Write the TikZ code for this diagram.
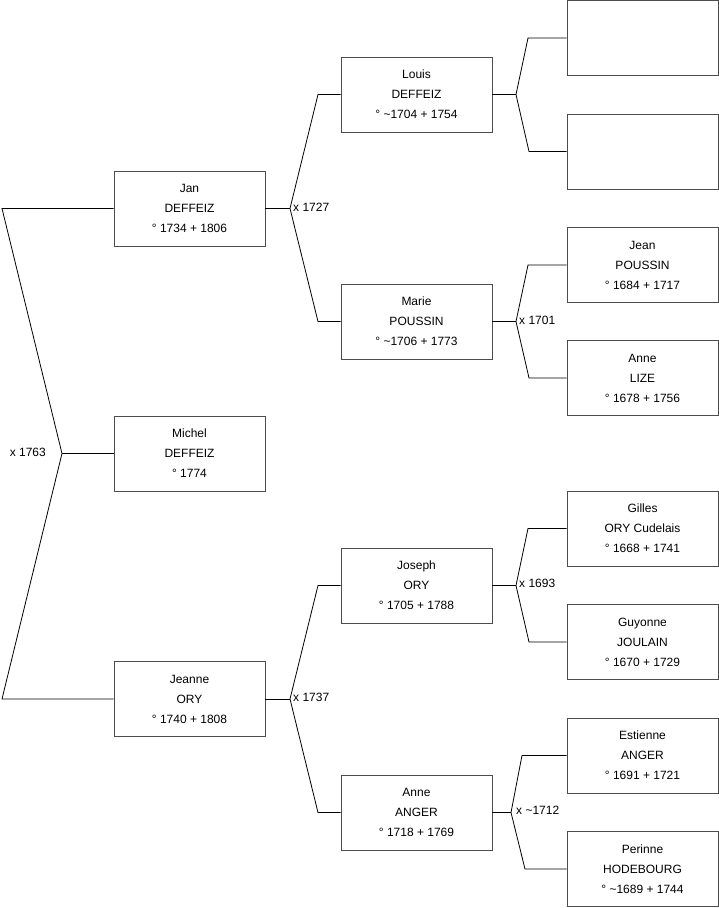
\documentclass[tikz,border=0pt]{standalone}
\usepackage{fontspec}
\setmainfont{Liberation Sans}
\usetikzlibrary{positioning}

\begin{document}
\begin{tikzpicture}[
  x=1pt,y=-1pt,
  person/.style={draw=black!70,fill=white,line width=0.9pt,minimum width=151pt,
    minimum height=75pt,inner sep=0pt,align=center,font=\fontsize{12}{20}\selectfont},
  link/.style={draw=black,line width=0.8pt},
  wed/.style={inner sep=0pt,font=\fontsize{12}{14}\selectfont}
]
  \useasboundingbox (0,0) rectangle (719,908);

  % generation 1
  \node[person] (michel) at (189.5,453.5) {Michel\\DEFFEIZ\\° 1774};
  % generation 2
  \node[person] (jan) at (189.5,208.5) {Jan\\DEFFEIZ\\° 1734 + 1806};
  \node[person] (jeanne) at (189.5,699) {Jeanne\\ORY\\° 1740 + 1808};
  % generation 3
  \node[person] (louis) at (416.5,94.5) {Louis\\DEFFEIZ\\° \textasciitilde1704 + 1754};
  \node[person] (marie) at (416.5,321.5) {Marie\\POUSSIN\\° \textasciitilde1706 + 1773};
  \node[person] (joseph) at (416.5,585.5) {Joseph\\ORY\\° 1705 + 1788};
  \node[person] (anneanger) at (416.5,812.5) {Anne\\ANGER\\° 1718 + 1769};
  % generation 4
  \node[person] (louisf) at (642.5,38) {};
  \node[person] (louism) at (642.5,151.5) {};
  \node[person] (jean) at (642.5,265) {Jean\\POUSSIN\\° 1684 + 1717};
  \node[person] (annelize) at (642.5,378) {Anne\\LIZE\\° 1678 + 1756};
  \node[person] (gilles) at (642.5,528.5) {Gilles\\ORY Cudelais\\° 1668 + 1741};
  \node[person] (guyonne) at (642.5,642) {Guyonne\\JOULAIN\\° 1670 + 1729};
  \node[person] (estienne) at (642.5,755.5) {Estienne\\ANGER\\° 1691 + 1721};
  \node[person] (perinne) at (642.5,869) {Perinne\\HODEBOURG\\° \textasciitilde1689 + 1744};

  % forks
  \coordinate (m1763) at (62,453.5);
  \coordinate (m1727) at (290,208.5);
  \coordinate (m1737) at (290,699);
  \coordinate (m1701) at (516,321.5);
  \coordinate (m1693) at (516,585.5);
  \coordinate (m1712) at (511,812.5);
  \coordinate (mlouis) at (516,94.5);

  \draw[link] (jan.west) -- (2,208.5) -- (m1763) -- (2,699) -- (jeanne.west);
  \draw[link] (m1763) -- (michel.west);
  \draw[link] (louis.west) -- (318,94.5) -- (m1727) -- (318,321.5) -- (marie.west);
  \draw[link] (jan.east) -- (m1727);
  \draw[link] (joseph.west) -- (318,585.5) -- (m1737) -- (318,812.5) -- (anneanger.west);
  \draw[link] (jeanne.east) -- (m1737);
  \draw[link] (louisf.west) -- (528,38) -- (mlouis) -- (529,151.5) -- (louism.west);
  \draw[link] (louis.east) -- (mlouis);
  \draw[link] (jean.west) -- (528,265) -- (m1701) -- (529,378) -- (annelize.west);
  \draw[link] (marie.east) -- (m1701);
  \draw[link] (gilles.west) -- (528,528.5) -- (m1693) -- (529,642) -- (guyonne.west);
  \draw[link] (joseph.east) -- (m1693);
  \draw[link] (estienne.west) -- (522,755.5) -- (m1712) -- (525,869) -- (perinne.west);
  \draw[link] (anneanger.east) -- (m1712);

  % marriages
  \node[wed,anchor=east] (w1763) at (46,452) {x 1763};
  \node[wed,anchor=west] (w1727) at (293,207) {x 1727};
  \node[wed,anchor=west] (w1737) at (293,697.5) {x 1737};
  \node[wed,anchor=west] (w1701) at (519,320) {x 1701};
  \node[wed,anchor=west] (w1693) at (519,583) {x 1693};
  \node[wed,anchor=west] (w1712) at (516,810) {x \textasciitilde1712};
\end{tikzpicture}
\end{document}
